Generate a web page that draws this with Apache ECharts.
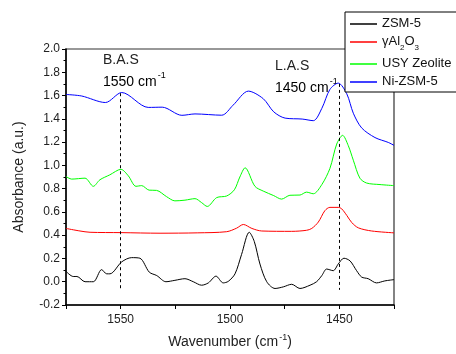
<!DOCTYPE html>
<html>
<head>
<meta charset="utf-8">
<script src="https://cdn.jsdelivr.net/npm/echarts@6/dist/echarts.min.js"></script>
<style>
  html, body { margin: 0; padding: 0; background: #fff; }
  #chart { width: 456px; height: 354px; }
</style>
</head>
<body>
<div id="chart"></div>
<script>
// spectra: [wavenumber, absorbance]
const zsm5 = [
  [1575, 0.09], [1571.7, 0.045], [1570, 0.045], [1566.3, 0.0], [1562.5, 0.0],
  [1558.7, 0.104], [1556.4, 0.068], [1554.9, 0.068], [1549.5, 0.171], [1545, 0.207],
  [1541.2, 0.202], [1536.9, 0.082], [1533.5, 0.053], [1529.3, 0.0], [1525.2, 0.012],
  [1520.6, 0.026], [1516.8, 0.0], [1513, -0.03], [1509.9, -0.01], [1506.4, 0.048],
  [1503.1, -0.01], [1500.8, 0.003], [1497.7, 0.068], [1494.7, 0.235], [1491.2, 0.425],
  [1488.9, 0.346], [1486.3, 0.152], [1483.2, 0.0], [1479.4, -0.058], [1475.6, -0.044],
  [1471.8, -0.022], [1468, -0.058], [1463.4, -0.03], [1460.4, 0.0], [1458, 0.053],
  [1455.8, 0.109], [1452.8, 0.095], [1450.5, 0.152], [1447.9, 0.202], [1445.1, 0.179],
  [1442.1, 0.095], [1439.8, 0.04], [1436.8, 0.026], [1433, -0.01], [1429.2, 0.007],
  [1425, 0.018]
];
const al2o3 = [
  [1575, 0.458], [1568.6, 0.436], [1564, 0.425], [1550, 0.422], [1532, 0.417],
  [1515, 0.42], [1501.5, 0.43], [1497, 0.46], [1493.9, 0.492], [1490, 0.458],
  [1485.5, 0.436], [1471.8, 0.433], [1465, 0.442], [1462.6, 0.458], [1459.6, 0.513],
  [1456.6, 0.611], [1454.3, 0.639], [1450.5, 0.639], [1448.9, 0.626], [1446.6, 0.57],
  [1444.3, 0.508], [1441.3, 0.463], [1435.2, 0.436], [1425, 0.42]
];
const usy = [
  [1575, 0.904], [1572.4, 0.882], [1566.3, 0.89], [1562.5, 0.82], [1559.5, 0.876],
  [1555, 0.918], [1549.9, 0.966], [1546.5, 0.91], [1543, 0.82], [1540.4, 0.826],
  [1537, 0.787], [1533.6, 0.785], [1529, 0.731], [1525.2, 0.695], [1520.6, 0.701],
  [1516, 0.714], [1513, 0.68], [1510.4, 0.647], [1506.1, 0.723], [1501.5, 0.737],
  [1498, 0.79], [1495.5, 0.9], [1493.1, 0.979], [1488.6, 0.82], [1484.8, 0.779],
  [1480, 0.74], [1476.4, 0.71], [1472.6, 0.743], [1468, 0.745], [1465, 0.77],
  [1461.9, 0.756], [1458, 0.835], [1454.3, 0.974], [1451.2, 1.183], [1448.5, 1.258],
  [1445.9, 1.169], [1443.6, 1.044], [1440.6, 0.89], [1437.5, 0.848], [1431.4, 0.835],
  [1425, 0.826]
];
const niZsm5 = [
  [1575, 1.609], [1567.8, 1.596], [1557, 1.54], [1549.5, 1.626], [1537.4, 1.498],
  [1531, 1.5], [1522, 1.43], [1516, 1.442], [1503.8, 1.431], [1498.6, 1.517],
  [1491.6, 1.638], [1484.8, 1.573], [1480, 1.46], [1474.8, 1.406], [1467, 1.398],
  [1461.9, 1.384], [1458, 1.49], [1454.3, 1.653], [1450.5, 1.707], [1446.6, 1.615],
  [1443.6, 1.448], [1439.8, 1.322], [1433.7, 1.239], [1427.6, 1.197], [1425, 1.172]
];
const seriesNames = ['ZSM-5', 'γAl2O3', 'USY Zeolite', 'Ni-ZSM-5'];
const seriesColors = ['#000000', '#ff0000', '#00ff00', '#0000ff'];
const seriesData = [zsm5, al2o3, usy, niZsm5];

// band markers: [wavenumber, top, bottom]
const basLine = [1550, 1.62, -0.06];
const lasLine = [1450, 1.70, -0.07];

const font = 'Liberation Sans, Arial, sans-serif';
const chart = echarts.init(document.getElementById('chart'));

const series = seriesData.map((d, i) => ({
  name: seriesNames[i],
  type: 'line',
  data: d,
  smooth: 0.3,
  symbol: 'none',
  lineStyle: { color: seriesColors[i], width: 1 },
  itemStyle: { color: seriesColors[i] },
  z: 3,
}));

series[0].markLine = {
  silent: true,
  symbol: 'none',
  label: { show: false },
  lineStyle: { color: '#000', type: [3, 3], width: 1 },
  data: [
    [{ coord: [basLine[0], basLine[1]] }, { coord: [basLine[0], basLine[2]] }],
    [{ coord: [lasLine[0], lasLine[1]] }, { coord: [lasLine[0], lasLine[2]] }],
  ],
};

const supRich = {
  t: { fontSize: 14, fontFamily: font, color: '#222', lineHeight: 18, verticalAlign: 'bottom' },
  sup: { fontSize: 9, fontFamily: font, color: '#222', lineHeight: 18, verticalAlign: 'top', padding: [0, 0, 0, 1] },
};

chart.setOption({
  animation: false,
  backgroundColor: '#fff',
  grid: {
    left: 66, right: 62, top: 49, bottom: 42,
    show: true, borderColor: '#333', borderWidth: 1.2,
  },
  legend: {
    orient: 'vertical',
    left: 345, top: 12,
    backgroundColor: '#fff',
    borderColor: '#000',
    borderWidth: 1,
    padding: [5, 6, 4, 5],
    icon: 'rect',
    itemWidth: 27, itemHeight: 1.5, itemGap: 5,
    data: seriesNames,
    textStyle: {
      fontFamily: font, fontSize: 13, color: '#111',
      rich: {
        n: { fontSize: 13, fontFamily: font, color: '#111', lineHeight: 14, verticalAlign: 'top' },
        s: { fontSize: 8, fontFamily: font, color: '#111', lineHeight: 14, verticalAlign: 'bottom', padding: [0, 0, -3, 0] },
      },
    },
    formatter: (name) => name === 'γAl2O3'
      ? '{n|γAl}{s|2}{n|O}{s|3}'
      : '{n|' + name + '}',
    z: 10,
  },
  xAxis: {
    type: 'value',
    inverse: true,
    min: 1425, max: 1575, interval: 25,
    name: 'Wavenumber (cm{sup|-1})',
    nameLocation: 'middle',
    nameGap: 28,
    nameTextStyle: { fontFamily: font, fontSize: 14, color: '#222', rich: supRich },
    axisLine: { onZero: false, lineStyle: { color: '#000', width: 1.5 } },
    axisTick: { inside: false, length: 4, lineStyle: { color: '#000' } },
    axisLabel: {
      fontFamily: font, fontSize: 12, color: '#222', margin: 9,
      formatter: (v) => (v % 50 === 0 ? String(v) : ''),
    },
    splitLine: { show: false },
  },
  yAxis: {
    type: 'value',
    min: -0.2, max: 2.0, interval: 0.2,
    name: 'Absorbance (a.u.)',
    nameLocation: 'middle',
    nameGap: 40,
    nameTextStyle: { fontFamily: font, fontSize: 14, color: '#222' },
    axisLine: { show: true, onZero: false, lineStyle: { color: '#000', width: 1.5 } },
    axisTick: { show: true, length: 4, lineStyle: { color: '#000' } },
    minorTick: { show: true, splitNumber: 2, length: 2.5, lineStyle: { color: '#000' } },
    axisLabel: {
      fontFamily: font, fontSize: 12, color: '#222', margin: 6,
      formatter: (v) => v.toFixed(1),
    },
    splitLine: { show: false },
  },
  graphic: [
    { type: 'text', left: 103, top: 53, style: { text: 'B.A.S', font: '14px ' + font, fill: '#222' } },
    { type: 'text', left: 103, top: 71, style: { text: '{t|1550 cm}{sup|-1}', rich: supRich } },
    { type: 'text', left: 275, top: 59, style: { text: 'L.A.S', font: '14px ' + font, fill: '#222' } },
    { type: 'text', left: 275, top: 77, style: { text: '{t|1450 cm}{sup|-1}', rich: supRich } },
  ],
  series: series,
});
</script>
</body>
</html>
